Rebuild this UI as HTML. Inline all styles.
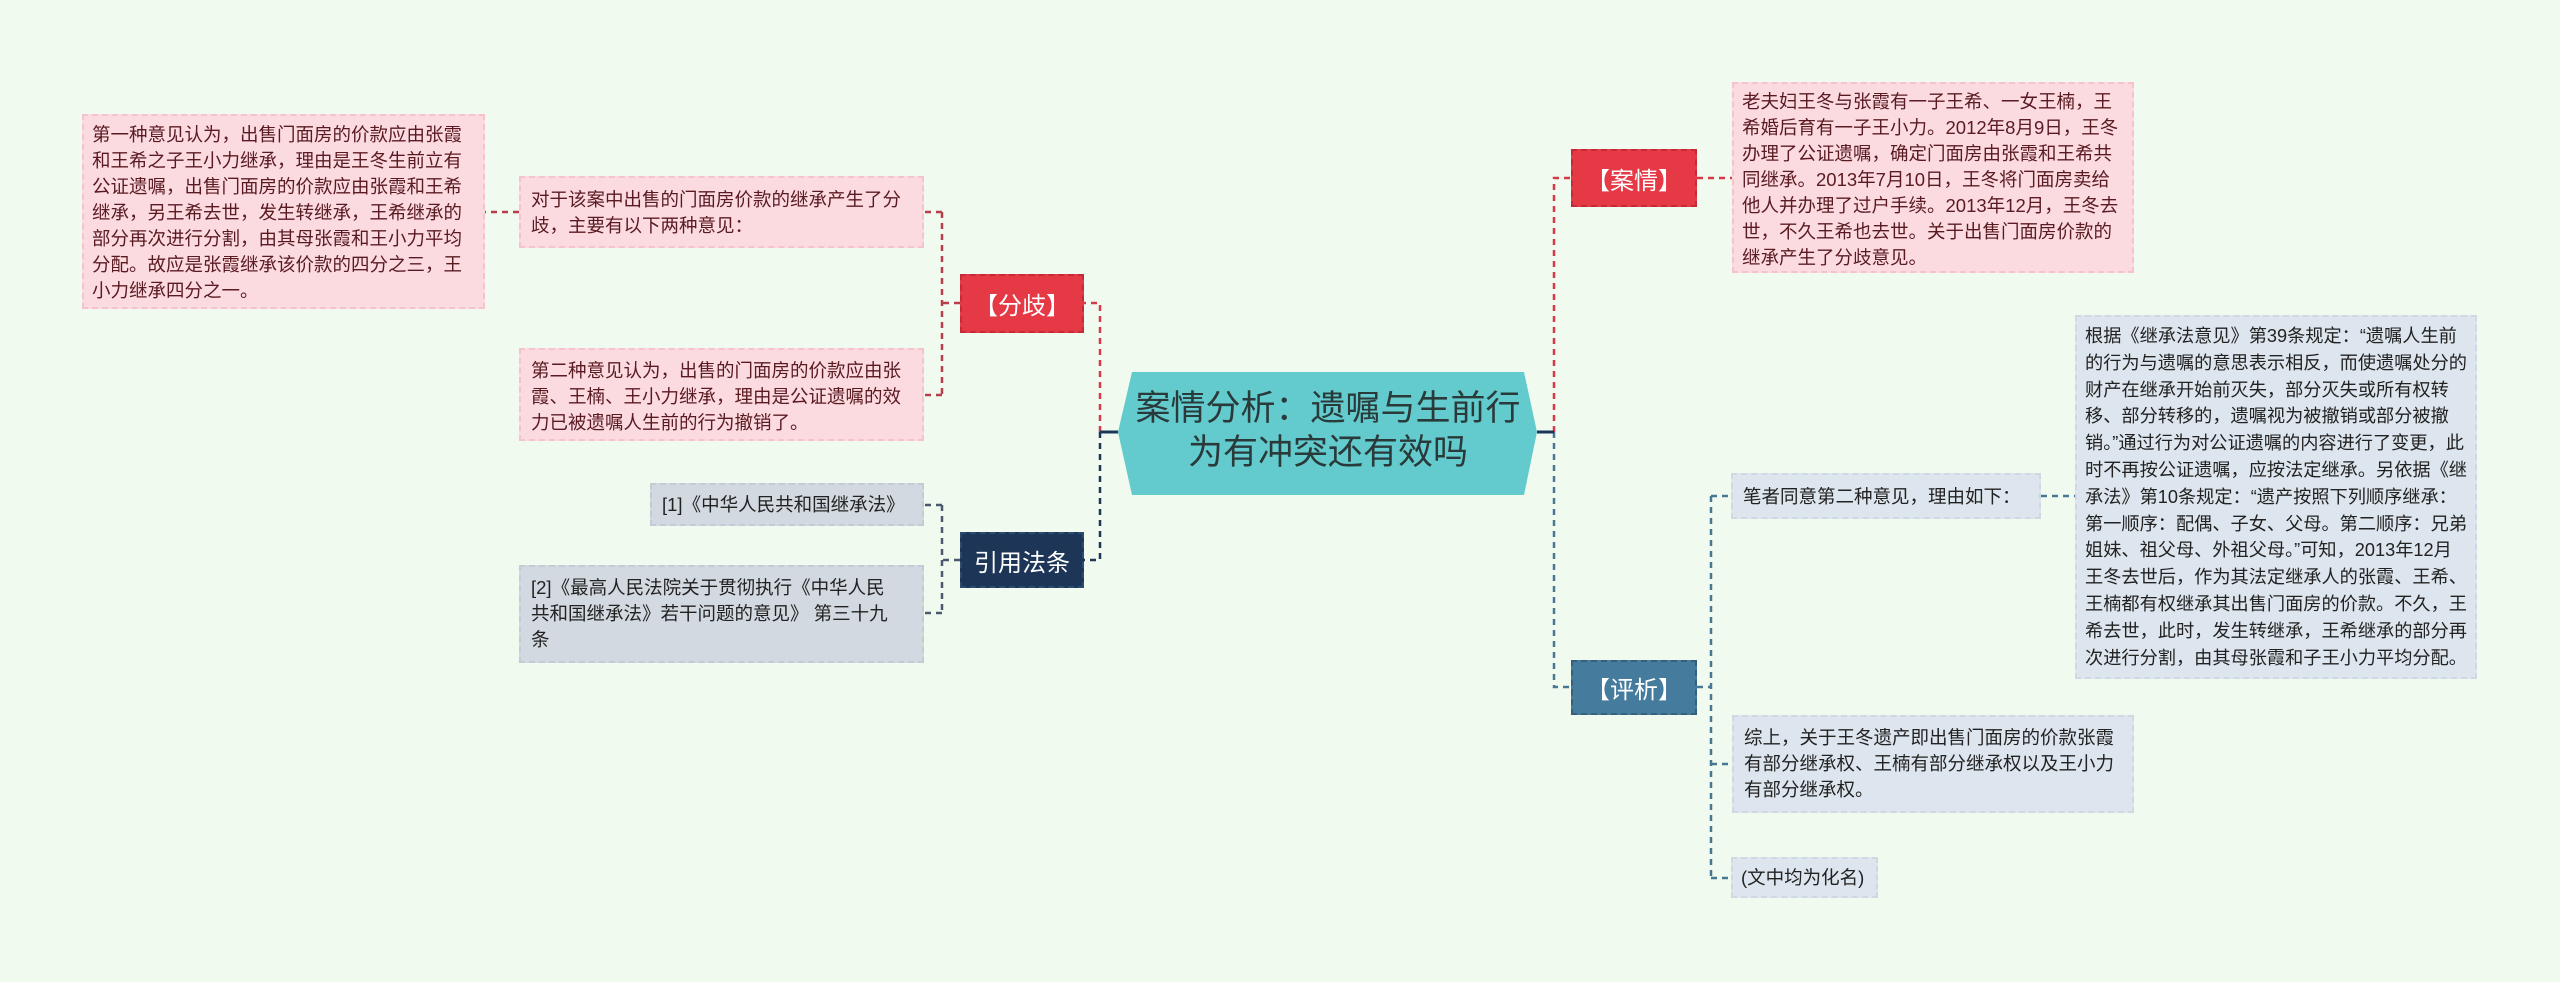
<!DOCTYPE html>
<html><head><meta charset="utf-8"><style>
body{margin:0;width:2560px;height:982px;background:#f1faee;overflow:hidden;position:relative;font-family:"Liberation Sans","Noto Sans CJK SC",sans-serif}
.b{position:absolute;box-sizing:border-box;font-size:18.5px;line-height:26px;padding:8px 12px;color:#333;overflow:hidden}
.p{background:#fbdbdf;border:2px dashed #f5c4ca;color:#5a1a22}
.g{background:#d3d9e0;border:2px dashed #c4cbd4;color:#222}
.l{background:#dde6ee;border:2px dashed #cfd9e3;color:#222}
.n{position:absolute;box-sizing:border-box;color:#fff;font-size:24px;display:flex;align-items:center;justify-content:center}
svg{position:absolute;left:0;top:0}
</style></head><body>
<svg width="2560" height="982">
<g fill="none" stroke-width="2.5" stroke-dasharray="6,5">
<path d="M1100 432 V303 H1084" stroke="#d63a4a"/>
<path d="M1100 432 V560 H1084" stroke="#1d3557"/>
<path d="M960 303 H942 M942 212 V395 M942 212 H924 M942 395 H924" stroke="#b83e4c"/>
<path d="M519 212 H485" stroke="#b83e4c"/>
<path d="M960 560 H942 M942 505 V613 M942 505 H924 M942 613 H924" stroke="#4a5870"/>
<path d="M1554 432 V178 H1571" stroke="#d63a4a"/>
<path d="M1554 432 V687 H1571" stroke="#467896"/>
<path d="M1697 178 H1732" stroke="#d63a4a"/>
<path d="M1697 687 H1711 M1711 496 V878 M1711 496 H1731 M1711 764 H1732 M1711 878 H1731 M2041 496 H2075" stroke="#467896"/>
</g>
<path d="M1100 432 H1118 M1537 432 H1554" stroke="#1d3557" stroke-width="3"/>
<polygon points="1132,372 1524,372 1537,432 1524,495 1132,495 1118,432" fill="#63cbcd"/>
<text x="1328" y="420" font-size="35" text-anchor="middle" fill="#2a3a3a" font-family="Liberation Sans,Noto Sans CJK SC,sans-serif">案情分析：遗嘱与生前行</text>
<text x="1328" y="464" font-size="35" text-anchor="middle" fill="#2a3a3a" font-family="Liberation Sans,Noto Sans CJK SC,sans-serif">为有冲突还有效吗</text>
</svg>
<div class="n" style="left:1571px;top:149px;width:126px;height:58px;background:#e63946;border:2px dashed #c52a38">【案情】</div>
<div class="n" style="left:1571px;top:660px;width:126px;height:55px;background:#457b9d;border:2px dashed #34607c">【评析】</div>
<div class="n" style="left:960px;top:274px;width:124px;height:59px;background:#e63946;border:2px dashed #c52a38">【分歧】</div>
<div class="n" style="left:960px;top:532px;width:124px;height:56px;background:#1d3557;border:2px dashed #2f4a70">引用法条</div>
<div class="b p" style="left:1732px;top:82px;width:402px;height:191px;padding:5px 8px">老夫妇王冬与张霞有一子王希、一女王楠，王希婚后育有一子王小力。2012年8月9日，王冬办理了公证遗嘱，确定门面房由张霞和王希共同继承。2013年7月10日，王冬将门面房卖给他人并办理了过户手续。2013年12月，王冬去世，不久王希也去世。关于出售门面房价款的继承产生了分歧意见。</div>
<div class="b l" style="left:1731px;top:473px;width:310px;height:46px;padding:9px 10px">笔者同意第二种意见，理由如下：</div>
<div class="b l" style="left:2075px;top:315px;width:402px;height:364px;padding:6px 8px;font-size:18.2px;line-height:26.8px">根据《继承法意见》第39条规定：“遗嘱人生前的行为与遗嘱的意思表示相反，而使遗嘱处分的财产在继承开始前灭失，部分灭失或所有权转移、部分转移的，遗嘱视为被撤销或部分被撤销。”通过行为对公证遗嘱的内容进行了变更，此时不再按公证遗嘱，应按法定继承。另依据《继承法》第10条规定：“遗产按照下列顺序继承：第一顺序：配偶、子女、父母。第二顺序：兄弟姐妹、祖父母、外祖父母。”可知，2013年12月王冬去世后，作为其法定继承人的张霞、王希、王楠都有权继承其出售门面房的价款。不久，王希去世，此时，发生转继承，王希继承的部分再次进行分割，由其母张霞和子王小力平均分配。</div>
<div class="b l" style="left:1732px;top:715px;width:402px;height:98px;padding:8px 10px">综上，关于王冬遗产即出售门面房的价款张霞有部分继承权、王楠有部分继承权以及王小力有部分继承权。</div>
<div class="b l" style="left:1731px;top:857px;width:147px;height:41px;padding:6px 8px">(文中均为化名)</div>
<div class="b p" style="left:519px;top:176px;width:405px;height:72px;padding:9px 10px">对于该案中出售的门面房价款的继承产生了分歧，主要有以下两种意见：</div>
<div class="b p" style="left:82px;top:114px;width:403px;height:195px;padding:6px 8px">第一种意见认为，出售门面房的价款应由张霞和王希之子王小力继承，理由是王冬生前立有公证遗嘱，出售门面房的价款应由张霞和王希继承，另王希去世，发生转继承，王希继承的部分再次进行分割，由其母张霞和王小力平均分配。故应是张霞继承该价款的四分之三，王小力继承四分之一。</div>
<div class="b p" style="left:519px;top:348px;width:405px;height:93px;padding:8px 10px">第二种意见认为，出售的门面房的价款应由张霞、王楠、王小力继承，理由是公证遗嘱的效力已被遗嘱人生前的行为撤销了。</div>
<div class="b g" style="left:650px;top:483px;width:274px;height:43px;padding:7px 10px">[1]《中华人民共和国继承法》</div>
<div class="b g" style="left:519px;top:565px;width:405px;height:98px;padding:8px 24px 8px 10px">[2]《最高人民法院关于贯彻执行《中华人民共和国继承法》若干问题的意见》 第三十九条</div>
</body></html>
